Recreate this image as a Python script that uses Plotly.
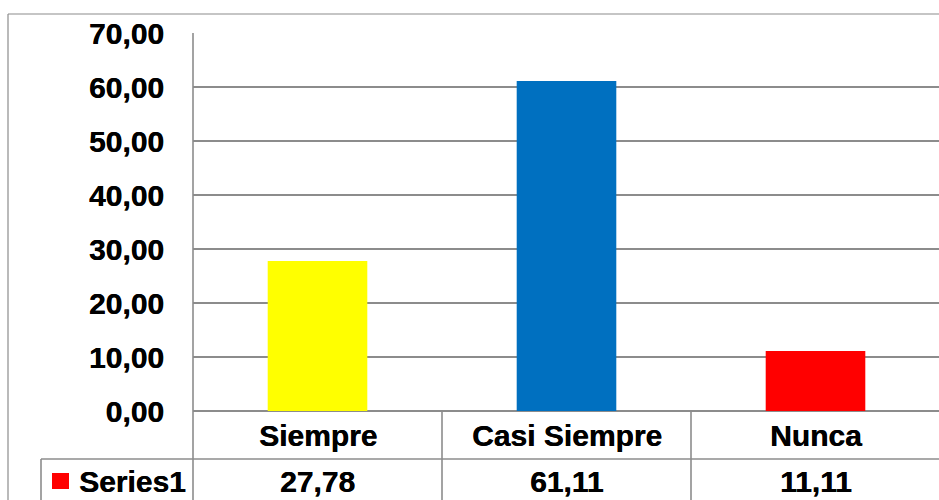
import plotly.graph_objects as go

# Survey results (percent of responses)
categories = ["Siempre", "Casi Siempre", "Nunca"]
values = [27.78, 61.11, 11.11]
bar_colors = ["#FFFF00", "#0070C0", "#FF0000"]
series_name = "Series1"
y_ticks = [0, 10, 20, 30, 40, 50, 60, 70]

W, H = 939, 500
GRID = "#8c8c8c"
FONT = dict(family="Liberation Sans, Arial, sans-serif", size=30, color="#000000", weight="bold",
            shadow="0.4px 0 0 #000")


def px(x):
    return x / W


def py(y):
    return 1 - y / H


def fmt(v):
    return f"{v:.2f}".replace(".", ",")


plot_left, plot_top, plot_bottom = 193, 33, 411
cat_w = 249

fig = go.Figure(
    go.Bar(
        x=list(range(len(categories))),
        y=values,
        marker=dict(color=bar_colors, line=dict(width=0)),
        width=0.4,
        showlegend=False,
        hoverinfo="skip",
    )
)

shapes = []
line = dict(color=GRID, width=1.6)
# outer chart frame
shapes.append(dict(type="line", xref="paper", yref="paper", x0=px(8), x1=1, y0=py(14), y1=py(14),
                   line=dict(color=GRID, width=1.2)))
shapes.append(dict(type="line", xref="paper", yref="paper", x0=px(8), x1=px(8), y0=py(14), y1=0,
                   line=dict(color=GRID, width=1.2)))
# plot area left edge continuing through the data table
shapes.append(dict(type="line", xref="paper", yref="paper", x0=px(plot_left), x1=px(plot_left),
                   y0=py(plot_top), y1=0, line=line))
# data table rows
shapes.append(dict(type="line", xref="paper", yref="paper", x0=px(41), x1=1, y0=py(459), y1=py(459), line=line))
shapes.append(dict(type="line", xref="paper", yref="paper", x0=px(41), x1=px(41), y0=py(459), y1=0, line=line))
# column separators between categories
for i in range(len(categories) - 1):
    shapes.append(dict(type="line", xref="x", yref="paper", x0=i + 0.5, x1=i + 0.5,
                       y0=py(plot_bottom), y1=0, line=line))
# legend key
shapes.append(dict(type="rect", xref="paper", yref="paper", x0=px(52), x1=px(69), y0=py(489), y1=py(473),
                   fillcolor="#FF0000", line=dict(width=0)))

annotations = []
for i, (c, v) in enumerate(zip(categories, values)):
    annotations.append(dict(x=i, y=py(435), xref="x", yref="paper", text=c, showarrow=False,
                            font=FONT, xanchor="center", yanchor="middle"))
    annotations.append(dict(x=i, y=py(481), xref="x", yref="paper", text=fmt(v), showarrow=False,
                            font=FONT, xanchor="center", yanchor="middle"))
annotations.append(dict(x=px(77), y=py(481), xref="paper", yref="paper", text=series_name, showarrow=False,
                        font=FONT, xanchor="left", yanchor="middle"))

fig.update_layout(
    width=W,
    height=H,
    margin=dict(l=0, r=0, t=0, b=0, pad=0),
    paper_bgcolor="white",
    plot_bgcolor="white",
    separators=", ",
    shapes=shapes,
    annotations=annotations,
    xaxis=dict(
        domain=[px(plot_left), 1],
        range=[-0.5, -0.5 + (W - plot_left) / cat_w],
        showticklabels=False,
        showgrid=False,
        zeroline=False,
        showline=False,
        automargin=False,
        fixedrange=True,
    ),
    yaxis=dict(
        domain=[py(plot_bottom), py(plot_top)],
        range=[0, 70],
        tickvals=y_ticks,
        tickformat=".2f",
        tickfont=FONT,
        ticks="",
        ticklabelstandoff=28,
        showgrid=True,
        gridcolor=GRID,
        gridwidth=1.6,
        zeroline=True,
        zerolinecolor=GRID,
        zerolinewidth=1.6,
        showline=False,
        automargin=False,
        fixedrange=True,
    ),
)

fig.write_html("out.html")
